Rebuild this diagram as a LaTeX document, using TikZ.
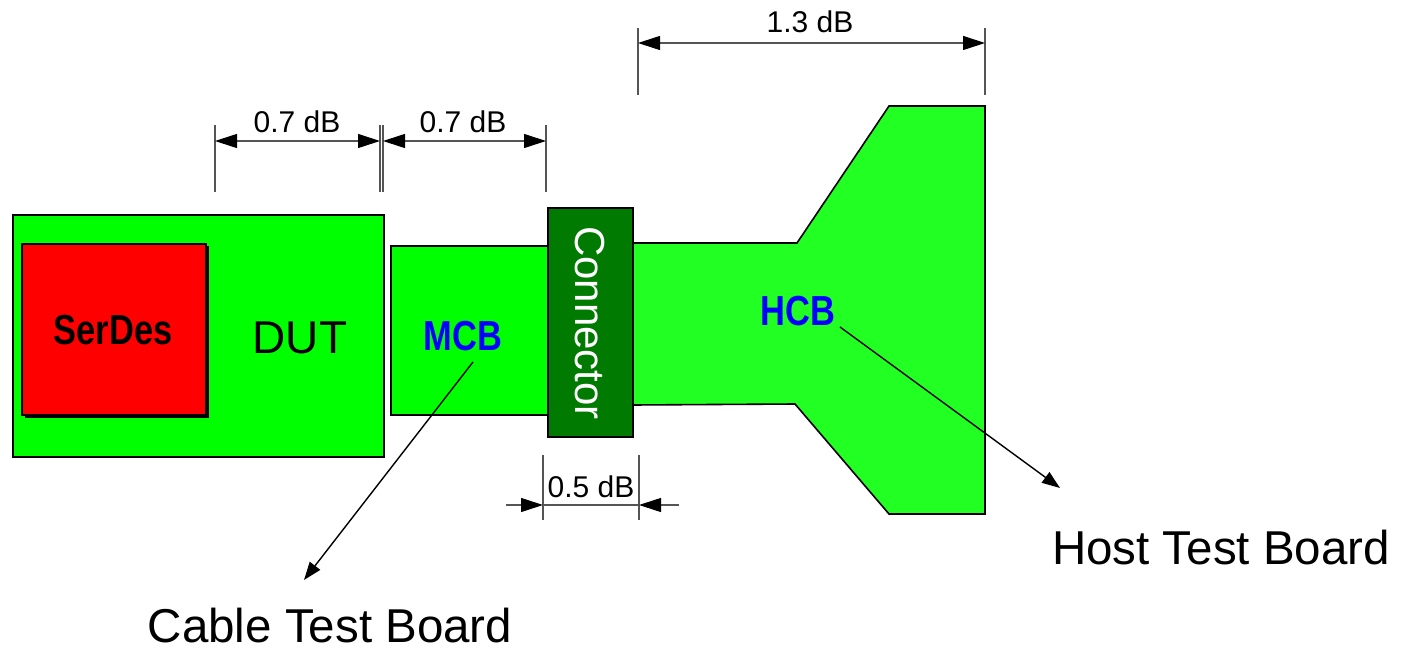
\documentclass[tikz,border=0pt]{standalone}
\usepackage{fontspec}
\setmainfont{Liberation Sans}
\newfontfamily\narrowbold[FakeStretch=0.82]{Liberation Sans}
\usetikzlibrary{arrows.meta}
\definecolor{boardgreen}{HTML}{00FF00}
\definecolor{hostgreen}{HTML}{22FF22}
\definecolor{conngreen}{HTML}{007A00}
\definecolor{chipred}{HTML}{FF0000}
\definecolor{labelblue}{HTML}{0000FF}
\definecolor{dimgray}{HTML}{555555}
\begin{document}
\begin{tikzpicture}[x=1pt,y=-1pt,
  board/.style={draw=black, line width=1.6pt, inner sep=0pt},
  dimext/.style={draw=dimgray, line width=1.1pt},
  dimarrow/.style={draw=dimgray, line width=1.1pt, {Triangle[length=22pt,width=14pt,color=black]}-{Triangle[length=22pt,width=14pt,color=black]}},
  dimin/.style={draw=dimgray, line width=1.1pt, -{Triangle[length=22pt,width=14pt,color=black]}},
  dimtext/.style={inner sep=0pt, font=\fontsize{30}{36}\selectfont},
  bigtext/.style={inner sep=0pt, font=\fontsize{47.5}{56}\selectfont},
  tagtext/.style={inner sep=0pt, text=labelblue, font=\fontsize{42}{50}\narrowbold\bfseries},
  leader/.style={draw=black, line width=1.4pt, -{Triangle[length=18pt,width=13pt]}}]
\useasboundingbox (0,0) rectangle (1407,652);

% DUT board
\node[board, fill=boardgreen, minimum width=371pt, minimum height=242pt] (dut) at (198.5,336) {};
\fill[black] (24.5,246.5) rectangle (208.5,417.5);
\node[board, fill=chipred, minimum width=184pt, minimum height=171pt] (serdes) at (114,329.5) {};
\node[inner sep=0pt, font=\fontsize{42}{50}\narrowbold\bfseries] (serdeslabel) at (113,330) {SerDes};
\node[inner sep=0pt, font=\fontsize{46}{54}\selectfont] (dutlabel) at (300,338) {DUT};

% MCB board
\node[board, fill=boardgreen, minimum width=157pt, minimum height=169pt] (mcb) at (469.5,330.5) {};
\node[tagtext] (mcblabel) at (463,336) {MCB};

% HCB host board
\draw[board, fill=hostgreen] (633,243) -- (797,243) -- (889,106) -- (985,106) -- (985,514) -- (889,514) -- (795,404) -- (633,405) -- cycle;
\node[tagtext] (hcblabel) at (798,311) {HCB};

% Connector
\node[board, fill=conngreen, minimum width=85pt, minimum height=229pt] (conn) at (590.5,322.5) {};
\node[inner sep=0pt, text=white, rotate=-90, font=\fontsize{42}{50}\selectfont] (connlabel) at (590,323) {Connector};

% leaders
\coordinate (mcbtail) at (473,362);
\coordinate (mcbhead) at (304,580);
\coordinate (hcbtail) at (840,327);
\coordinate (hcbhead) at (1060,488);
\draw[leader] (mcbtail) -- (mcbhead);
\draw[leader] (hcbtail) -- (hcbhead);
\node[bigtext] (cabletext) at (330,626) {Cable Test Board};
\node[bigtext] (hosttext) at (1221,548) {Host Test Board};

% dimension 0.7 dB (DUT)
\coordinate (e1t) at (215,125); \coordinate (e1b) at (215,192);
\coordinate (e2t) at (380,125); \coordinate (e2b) at (380,192);
\coordinate (e3t) at (383,125); \coordinate (e3b) at (383,192);
\coordinate (e4t) at (546,125); \coordinate (e4b) at (546,192);
\draw[dimext] (e1t) -- (e1b);
\draw[dimext] (e2t) -- (e2b);
\draw[dimext] (e3t) -- (e3b);
\draw[dimext] (e4t) -- (e4b);
\coordinate (d1a) at (215,141); \coordinate (d1b) at (380,141);
\coordinate (d2a) at (383,141); \coordinate (d2b) at (546,141);
\draw[dimarrow] (d1a) -- (d1b);
\draw[dimarrow] (d2a) -- (d2b);
\node[dimtext] (dlab1) at (297,122) {0.7 dB};
\node[dimtext] (dlab2) at (463,122) {0.7 dB};

% dimension 1.3 dB
\coordinate (e5t) at (638,28); \coordinate (e5b) at (638,95);
\coordinate (e6t) at (985,28); \coordinate (e6b) at (985,95);
\draw[dimext] (e5t) -- (e5b);
\draw[dimext] (e6t) -- (e6b);
\coordinate (d3a) at (638,43); \coordinate (d3b) at (985,43);
\draw[dimarrow] (d3a) -- (d3b);
\node[dimtext] (dlab3) at (810,22) {1.3 dB};

% dimension 0.5 dB
\coordinate (e7t) at (543,455); \coordinate (e7b) at (543,520);
\coordinate (e8t) at (639,455); \coordinate (e8b) at (639,520);
\draw[dimext] (e7t) -- (e7b);
\draw[dimext] (e8t) -- (e8b);
\coordinate (d4o) at (506,505); \coordinate (d4a) at (543,505);
\coordinate (d4b) at (639,505); \coordinate (d4p) at (679,505);
\draw[dimext] (d4a) -- (d4b);
\draw[dimin] (d4o) -- (d4a);
\draw[dimin] (d4p) -- (d4b);
\node[dimtext] (dlab4) at (591,487) {0.5 dB};
\end{tikzpicture}
\end{document}
